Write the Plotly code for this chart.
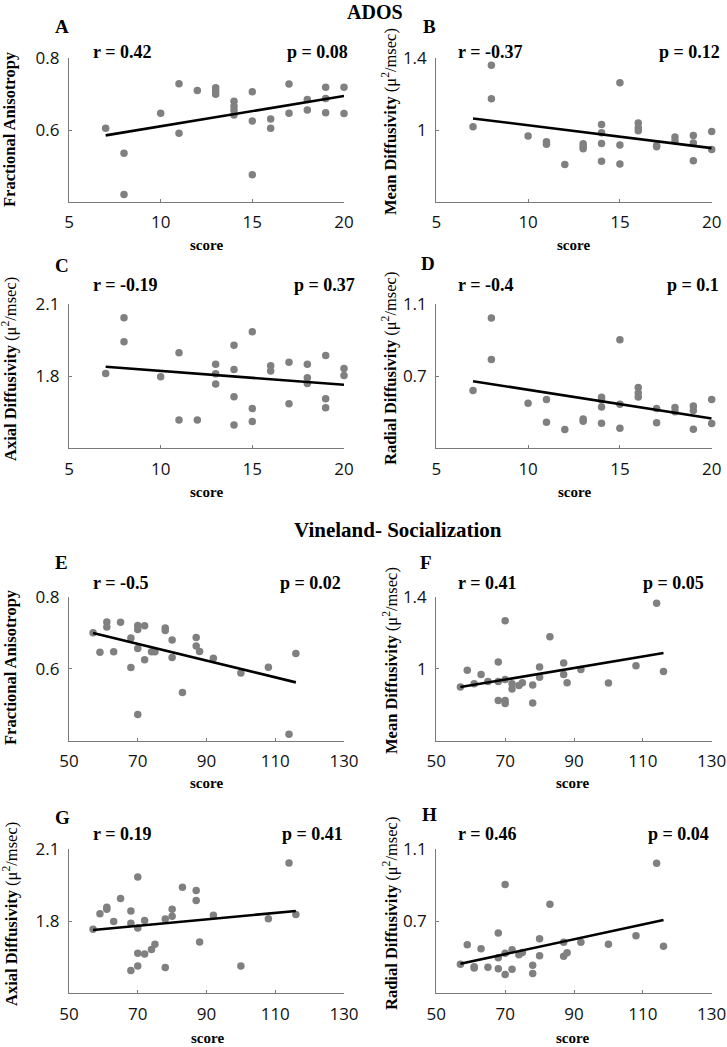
import plotly.graph_objects as go

# ---------------- data ----------------
A_x = [7, 8, 8, 10, 11, 11, 12, 13, 13, 13, 14, 14, 14, 14, 15, 15, 15, 16, 16, 17, 17, 18, 18, 19, 19, 19, 20, 20]
A_y = [0.605, 0.535, 0.420, 0.647, 0.729, 0.591, 0.710, 0.718, 0.709, 0.700, 0.680, 0.666, 0.655, 0.642,
       0.707, 0.625, 0.475, 0.631, 0.605, 0.728, 0.647, 0.685, 0.656, 0.719, 0.688, 0.648, 0.719, 0.646]

B_x = [7, 8, 8, 10, 11, 11, 12, 13, 13, 13, 14, 14, 14, 14, 15, 15, 15, 16, 16, 16, 17, 17, 18, 18, 19, 19, 19, 20, 20]
B_y = [1.018, 1.361, 1.175, 0.967, 0.935, 0.920, 0.808, 0.923, 0.908, 0.895, 1.031, 0.985, 0.924, 0.825,
       1.264, 0.917, 0.810, 1.039, 1.013, 0.996, 0.913, 0.906, 0.961, 0.939, 0.970, 0.928, 0.829, 0.991, 0.891]

C_x = [7, 8, 8, 10, 11, 11, 12, 13, 13, 13, 14, 14, 14, 14, 15, 15, 15, 16, 16, 17, 17, 18, 18, 18, 19, 19, 19, 20, 20]
C_y = [1.811, 2.043, 1.943, 1.797, 1.897, 1.618, 1.618, 1.850, 1.810, 1.767, 1.928, 1.828, 1.714, 1.597,
       1.985, 1.665, 1.611, 1.843, 1.821, 1.858, 1.685, 1.850, 1.793, 1.769, 1.886, 1.706, 1.669, 1.832, 1.803]

D_x = [7, 8, 8, 10, 11, 11, 12, 13, 13, 14, 14, 14, 14, 15, 15, 15, 16, 16, 16, 17, 17, 18, 18, 19, 19, 19, 20, 20]
D_y = [0.620, 1.022, 0.793, 0.550, 0.570, 0.444, 0.404, 0.463, 0.450, 0.583, 0.568, 0.529, 0.439, 0.902,
       0.544, 0.411, 0.637, 0.607, 0.585, 0.520, 0.441, 0.526, 0.502, 0.535, 0.509, 0.406, 0.570, 0.437]

E_x = [57, 59, 61, 61, 63, 65, 68, 68, 70, 70, 70, 70, 72, 72, 74, 75, 78, 78, 80, 80, 83, 87, 87, 88, 92, 100, 108, 114, 116]
E_y = [0.700, 0.646, 0.730, 0.716, 0.647, 0.729, 0.685, 0.603, 0.720, 0.709, 0.656, 0.473, 0.719, 0.625,
       0.647, 0.647, 0.713, 0.706, 0.680, 0.631, 0.534, 0.687, 0.663, 0.648, 0.629, 0.588, 0.604, 0.418, 0.642]

F_x = [57, 59, 61, 63, 65, 68, 68, 68, 70, 70, 70, 70, 72, 72, 74, 75, 78, 78, 80, 80, 83, 87, 87, 88, 92, 100, 108, 114, 116]
F_y = [0.898, 0.991, 0.916, 0.968, 0.929, 1.037, 0.929, 0.823, 1.266, 0.940, 0.823, 0.807, 0.916, 0.887,
       0.907, 0.922, 0.909, 0.810, 1.009, 0.953, 1.177, 1.032, 0.968, 0.922, 0.996, 0.920, 1.017, 1.363, 0.985]

G_x = [57, 59, 61, 61, 63, 65, 68, 68, 68, 70, 70, 70, 70, 72, 72, 74, 75, 78, 78, 80, 80, 83, 87, 87, 88, 92, 100, 108, 114, 116]
G_y = [1.767, 1.831, 1.859, 1.850, 1.799, 1.895, 1.843, 1.792, 1.595, 1.985, 1.772, 1.667, 1.614, 1.803,
       1.664, 1.682, 1.704, 1.810, 1.607, 1.850, 1.821, 1.942, 1.928, 1.887, 1.714, 1.825, 1.614, 1.811, 2.043, 1.828]

H_x = [57, 59, 61, 61, 63, 65, 68, 68, 68, 70, 70, 70, 72, 72, 74, 75, 78, 78, 80, 80, 83, 87, 87, 88, 92, 100, 108, 114, 116]
H_y = [0.462, 0.570, 0.447, 0.441, 0.548, 0.445, 0.635, 0.497, 0.436, 0.905, 0.523, 0.404, 0.542, 0.434,
       0.514, 0.527, 0.456, 0.410, 0.603, 0.508, 0.795, 0.583, 0.506, 0.525, 0.583, 0.572, 0.620, 1.022, 0.562]

# regression lines (endpoints)
fit_x_ados = [7, 20]
fit_x_vine = [57, 116]
A_fit = [0.585, 0.695]
B_fit = [1.0645, 0.899]
C_fit = [1.839, 1.764]
D_fit = [0.672, 0.465]
E_fit = [0.699, 0.562]
F_fit = [0.898, 1.087]
G_fit = [1.764, 1.843]
H_fit = [0.464, 0.707]

panel_letters = ["A", "B", "C", "D", "E", "F", "G", "H"]
r_texts = ["r = 0.42", "r = -0.37", "r = -0.19", "r = -0.4", "r = -0.5", "r = 0.41", "r = 0.19", "r = 0.46"]
p_texts = ["p = 0.08", "p = 0.12", "p = 0.37", "p = 0.1", "p = 0.02", "p = 0.05", "p = 0.41", "p = 0.04"]

y_titles = ["<b>Fractional Anisotropy</b>",
            "<b>Mean Diffusivity</b> (\u03bc<sup>2</sup>/msec)",
            "<b>Axial Diffusivity</b> (\u03bc<sup>2</sup>/msec)",
            "<b>Radial Diffusivity</b> (\u03bc<sup>2</sup>/msec)"]

ados_ticks = [5, 10, 15, 20]
vine_ticks = [50, 70, 90, 110, 130]
y_ranges = [[0.4, 0.8], [0.6, 1.4], [1.5, 2.1], [0.3, 1.1]]
y_tickvals = [[0.6, 0.8], [1.0, 1.4], [1.8, 2.1], [0.7, 1.1]]
y_ticktext = [["0.6", "0.8"], ["1", "1.4"], ["1.8", "2.1"], ["0.7", "1.1"]]
section_titles = ["ADOS", "Vineland- Socialization"]
x_title = "score"

# ---------------- layout geometry (pixels) ----------------
W, H = 727, 1047
def px(x):
    return x / W
def py(y):
    return 1 - y / H

col_px = [(69, 344), (436.3, 711.7)]
row_px = [(58.3, 201.7), (304, 448.3), (596.7, 740.7), (849.3, 993.3)]

xs = [A_x, B_x, C_x, D_x, E_x, F_x, G_x, H_x]
ys = [A_y, B_y, C_y, D_y, E_y, F_y, G_y, H_y]
fits = [A_fit, B_fit, C_fit, D_fit, E_fit, F_fit, G_fit, H_fit]

SERIF = "Liberation Serif, Times New Roman, serif"
SANS = "Open Sans, sans-serif"
GREY = "#808080"
AXC = "#7a7a7a"

fig = go.Figure()
layout = dict(width=W, height=H, margin=dict(l=0, r=0, t=0, b=0, autoexpand=False),
              template="none",
              paper_bgcolor="white", plot_bgcolor="white", showlegend=False)
annotations = []

for i in range(8):
    row, col = i // 2, i % 2
    metric = i % 4
    ados = i < 4
    k = "" if i == 0 else str(i + 1)
    fx = fit_x_ados if ados else fit_x_vine
    fig.add_trace(go.Scatter(x=xs[i], y=ys[i], mode="markers", xaxis="x" + k, yaxis="y" + k,
                             marker=dict(size=7.5, color=GREY, line=dict(width=0)), cliponaxis=False))
    fig.add_trace(go.Scatter(x=fx, y=fits[i], mode="lines", xaxis="x" + k, yaxis="y" + k,
                             line=dict(color="black", width=2.6), cliponaxis=False))
    x0, x1 = col_px[col]
    y0, y1 = row_px[row]
    common = dict(showline=True, linecolor=AXC, linewidth=1.2, ticks="inside", ticklen=3,
                  tickcolor=AXC, tickwidth=1, showgrid=False, zeroline=False, automargin=False,
                  tickfont=dict(family=SANS, size=17, color="#111"), ticklabelstandoff=5)
    layout["xaxis" + k] = dict(common, domain=[px(x0), px(x1)], anchor="y" + k,
                               range=[5, 20] if ados else [50, 130],
                               tickvals=ados_ticks if ados else vine_ticks)
    layout["yaxis" + k] = dict(common, domain=[py(y1), py(y0)], anchor="x" + k,
                               range=y_ranges[metric], tickvals=y_tickvals[metric],
                               ticktext=y_ticktext[metric])

# text positions (pixels)
letter_pos = [(62, 27), (429, 27), (62, 265), (428, 264), (61, 562), (426, 562), (62, 817), (429, 814)]
r_pos = [(91, 52), (456, 52), (91, 285), (456, 285), (91, 583), (456, 583), (91, 834), (456, 834)]
p_pos = [(350, 52), (722, 52), (357, 285), (721, 285), (343, 583), (706, 583), (345, 834), (711, 834)]
score_pos = [(206, 245), (573, 245), (206, 492), (574, 492), (206, 783), (572, 783), (207, 1038), (572, 1038)]
ytitle_x = [10, 390]
ytitle_y = [129, 122, 369, 369, 667, 661, 914, 914]

for i in range(8):
    lx, ly = letter_pos[i]
    annotations.append(dict(text="<b>%s</b>" % panel_letters[i], x=px(lx), y=py(ly), xref="paper", yref="paper",
                            xanchor="center", yanchor="middle", showarrow=False,
                            font=dict(family=SERIF, size=19, color="black")))
    rx, ry = r_pos[i]
    annotations.append(dict(text="<b>%s</b>" % r_texts[i], x=px(rx), y=py(ry), xref="paper", yref="paper",
                            xanchor="left", yanchor="middle", showarrow=False,
                            font=dict(family=SERIF, size=18, color="black")))
    qx, qy = p_pos[i]
    annotations.append(dict(text="<b>%s</b>" % p_texts[i], x=px(qx), y=py(qy), xref="paper", yref="paper",
                            xanchor="right", yanchor="middle", showarrow=False,
                            font=dict(family=SERIF, size=18, color="black")))
    sx, sy = score_pos[i]
    annotations.append(dict(text="<b>%s</b>" % x_title, x=px(sx), y=py(sy), xref="paper", yref="paper",
                            xanchor="center", yanchor="middle", showarrow=False,
                            font=dict(family=SERIF, size=15, color="black")))
    annotations.append(dict(text=y_titles[i % 4], x=px(ytitle_x[i % 2]), y=py(ytitle_y[i]),
                            xref="paper", yref="paper", xanchor="center", yanchor="middle",
                            textangle=-90, showarrow=False,
                            font=dict(family=SERIF, size=16.5, color="black")))

annotations.append(dict(text="<b>%s</b>" % section_titles[0], x=px(375), y=py(12), xref="paper", yref="paper",
                        xanchor="center", yanchor="middle", showarrow=False,
                        font=dict(family=SERIF, size=20, color="black")))
annotations.append(dict(text="<b>%s</b>" % section_titles[1], x=px(398), y=py(529.5), xref="paper", yref="paper",
                        xanchor="center", yanchor="middle", showarrow=False,
                        font=dict(family=SERIF, size=21, color="black")))

layout["annotations"] = annotations
fig.update_layout(**layout)
fig.write_html("out.html", config={"displayModeBar": False},
               post_script="document.body.style.margin='0';")
